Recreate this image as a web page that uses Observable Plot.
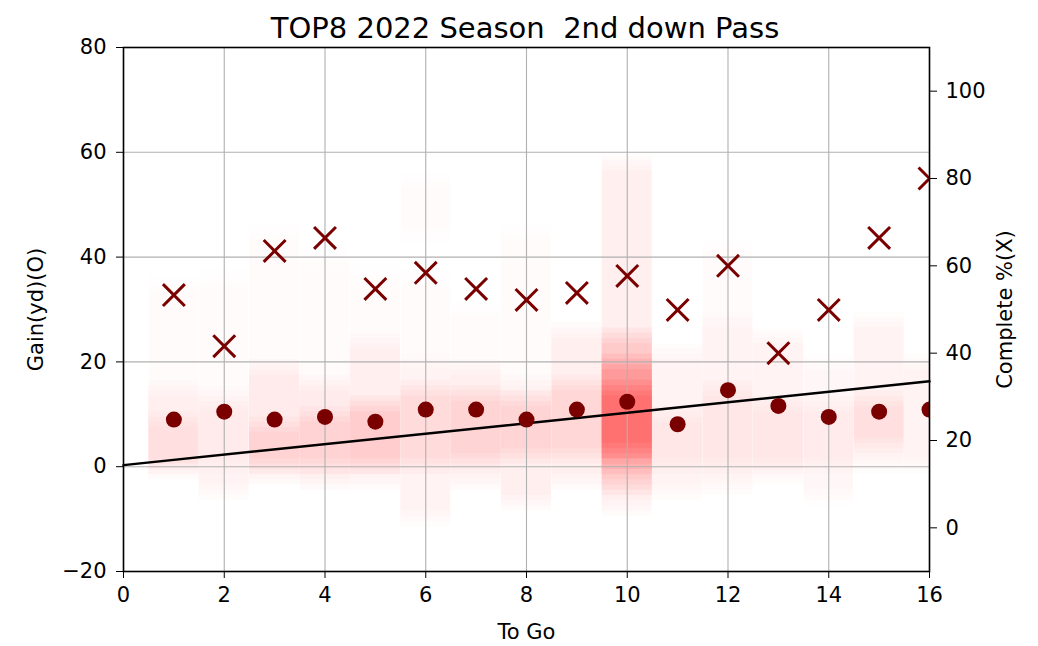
<!DOCTYPE html>
<html>
<head>
<meta charset="utf-8">
<script src="https://cdn.jsdelivr.net/npm/d3@7"></script>
<script src="https://cdn.jsdelivr.net/npm/@observablehq/plot@0.6"></script>
<style>
  body { margin: 0; background: white; font-family: "DejaVu Sans", sans-serif; }
  #title { position: relative; height: 20px; width: 1038px; z-index: 2; }
  #title span { position: absolute; left: 525px; top: 28px; transform: translate(-50%, -50%); font-size: 29px; white-space: pre; color: #000; }
</style>
</head>
<body>
<div id="title"><span>TOP8 2022 Season  2nd down Pass</span></div>
<div id="chart"></div>
<script>
// ---- data ----
const toGo = [1, 2, 3, 4, 5, 6, 7, 8, 9, 10, 11, 12, 13, 14, 15, 16];
const gainYd = [9.0, 10.5, 9.0, 9.5, 8.6, 10.9, 10.9, 9.0, 10.9, 12.4, 8.1, 14.6, 11.6, 9.5, 10.5, 10.9];
const completePct = [53.3, 41.6, 63.4, 66.4, 54.7, 58.4, 54.7, 52.2, 53.8, 57.7, 49.9, 60.0, 40.0, 49.9, 66.4, 80.0];
const refLineX = [0, 16];
const refLineY = [0.3, 16.3];
// spread of individual gains per to-go (density bands)
const shadeToGo   = [1,1,1, 2,2,2, 3,3,3, 4,4,4, 5,5,5, 6,6,6,6, 7,7,7, 8,8,8, 9,9, 10,10,10,10, 11,11, 12,12,12, 13,13, 14,14, 15,15, 16];
const shadeLow    = [-1,0,15, -5,0,14, -2,0,19, -3,0,16, -3,0,24, -10,0,20,44, -3,1,19, -7,2,16, -3,2, -8,-4,0,3, -5,0, -4,0,28, -2,0, -6,0, 0,4, 0];
const shadeHigh   = [15,9,35, 14,12,36, 19,8,45, 16,10,40, 24,12,37, 20,15,36,55, 19,14,30, 16,13,45, 26,16, 58,25,20,15, 22,10, 28,15,42, 25,12, 20,12, 28,13, 20];
const shadeWeight = [0.06,0.07,0.014, 0.05,0.03,0.012, 0.08,0.10,0.014, 0.08,0.10,0.014, 0.07,0.14,0.014, 0.05,0.09,0.012,0.02, 0.07,0.11,0.012, 0.06,0.11,0.014, 0.06,0.09, 0.06,0.15,0.25,0.3, 0.05,0.05, 0.05,0.05,0.012, 0.04,0.05, 0.035,0.04, 0.05,0.08, 0.04];
const xTicks = [0, 2, 4, 6, 8, 10, 12, 14, 16];
const leftTicks = [-20, 0, 20, 40, 60, 80];
const rightTicks = [0, 20, 40, 60, 80, 100];
const leftDomain = [-20, 80];
const rightDomain = [-10, 110];

// ---- helpers ----
const k = (leftDomain[1] - leftDomain[0]) / (rightDomain[1] - rightDomain[0]);
const toLeft = p => leftDomain[0] + (p - rightDomain[0]) * k;
const toRight = v => rightDomain[0] + (v - leftDomain[0]) / k;

const points = toGo.map((t, i) => ({togo: t, gain: gainYd[i], pct: completePct[i]}));
// each band is drawn as a few nested translucent layers so its top and bottom edges fade out
const feather = [-1.5, -0.5, 0.5, 1.5];
const shade = shadeToGo.flatMap((t, i) => feather.map(f => ({
  togo: t, lo: shadeLow[i] - f, hi: shadeHigh[i] + f, w: shadeWeight[i] / feather.length
})));
const refLine = refLineX.map((x, i) => ({x, y: refLineY[i]}));
const mark = "#7a0000";

const chart = Plot.plot({
  width: 1038,
  height: 626,
  marginLeft: 123,
  marginRight: 109,
  marginTop: 27,
  marginBottom: 75,
  style: {fontFamily: "DejaVu Sans", fontSize: "21px", color: "#000", background: "white"},
  x: {domain: [0, 16]},
  y: {domain: leftDomain},
  opacity: {type: "identity"},
  marks: [
    Plot.rect(shade, {x1: d => d.togo - 0.5, x2: d => d.togo + 0.5, y1: "lo", y2: "hi", fill: "#ff0000", fillOpacity: "w", clip: true}),
    Plot.gridX(xTicks, {stroke: "#b0b0b0", strokeOpacity: 1, strokeWidth: 1.1}),
    Plot.gridY(leftTicks, {stroke: "#b0b0b0", strokeOpacity: 1, strokeWidth: 1.1}),
    Plot.line(refLine, {x: "x", y: "y", stroke: "black", strokeWidth: 2.5}),
    Plot.dot(points, {x: "togo", y: "gain", r: 8, fill: mark, clip: true}),
    Plot.dot(points, {x: "togo", y: d => toLeft(d.pct), symbol: "times", r: 10, stroke: mark, strokeWidth: 3, clip: true}),
    Plot.frame({stroke: "black", strokeWidth: 1.6}),
    Plot.axisX(xTicks, {tickSize: 7, tickPadding: 9, label: "To Go", labelAnchor: "center", labelArrow: "none", labelOffset: 67}),
    Plot.axisY(leftTicks, {anchor: "left", tickSize: 7, tickPadding: 10, label: "Gain(yd)(O)", labelAnchor: "center", labelArrow: "none", labelOffset: 95}),
    Plot.axisY(rightTicks.map(toLeft), {anchor: "right", tickSize: 7, tickPadding: 9, tickFormat: v => String(Math.round(toRight(v))), label: "Complete %(X)", labelAnchor: "center", labelArrow: "none", labelOffset: 82})
  ]
});
document.getElementById("chart").appendChild(chart);
</script>
</body>
</html>
